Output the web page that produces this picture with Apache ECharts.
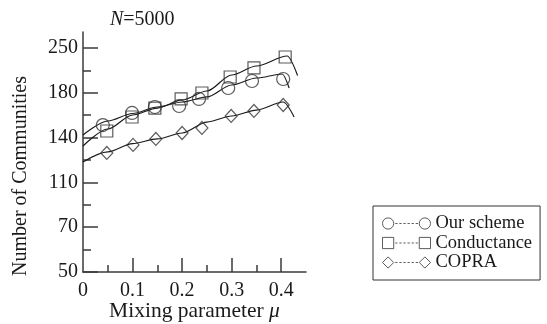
<!DOCTYPE html>
<html>
<head>
<meta charset="utf-8">
<script src="https://cdn.jsdelivr.net/npm/echarts@6/dist/echarts.min.js"></script>
<style>
  html, body { margin: 0; background: #fff; }
  #chart { width: 547px; height: 324px; }
</style>
</head>
<body>
<div id="chart"></div>
<script>
  // y axis labels are evenly spaced although their values are not
  const yTickLabels = [50, 70, 110, 140, 180, 250];
  const xTickLabels = [0, 0.1, 0.2, 0.3, 0.4];
  const seriesNames = ["Our scheme", "Conductance", "COPRA"];

  // measured points (markers)
  const oursMu = [0.04, 0.099, 0.145, 0.194, 0.234, 0.293, 0.341, 0.404];
  const oursCount = [151.2, 162, 167.3, 168.2, 174.5, 187.5, 198.4, 201.6];
  const condMu = [0.048, 0.099, 0.145, 0.198, 0.24, 0.297, 0.345, 0.408];
  const condCount = [145.9, 158.4, 166.4, 174.5, 179.8, 204.7, 218.8, 235.9];
  const copraMu = [0.048, 0.101, 0.147, 0.2, 0.24, 0.299, 0.345, 0.404];
  const copraCount = [129.7, 135.1, 139.1, 144.1, 148.6, 159.3, 163.8, 169.1];

  // fitted curves
  const oursFitMu = [0, 0.05, 0.1, 0.15, 0.2, 0.25, 0.3, 0.35, 0.402, 0.416];
  const oursFit = [142.3, 154.8, 161.5, 167.3, 171.8, 176.3, 192.2, 203.1, 209.4, 187.5];
  const condFitMu = [0, 0.05, 0.1, 0.15, 0.2, 0.25, 0.3, 0.35, 0.412, 0.433];
  const condFit = [134.4, 147.7, 160.2, 166.4, 173.6, 182.8, 207.8, 221.9, 237.5, 207.0];
  const copraFitMu = [0, 0.05, 0.1, 0.15, 0.2, 0.25, 0.3, 0.35, 0.404, 0.426];
  const copraFit = [123.7, 130.4, 136.0, 139.1, 144.1, 153.9, 159.3, 164.6, 171.8, 158.4];

  const FONT = "'Liberation Serif', 'Times New Roman', serif";
  const INK = "#1a1a1a";

  // value -> position on the evenly spaced label axis
  function toAxis(v) {
    for (let i = 0; i < yTickLabels.length - 1; i++) {
      const a = yTickLabels[i], b = yTickLabels[i + 1];
      if (v <= b || i === yTickLabels.length - 2) return i + (v - a) / (b - a);
    }
    return 0;
  }

  function pairs(xs, ys) {
    return xs.map((x, i) => [x, toAxis(ys[i])]);
  }

  function legendIcon(kind) {
    let shape;
    if (kind === "circle") {
      shape = (cx) => `M${cx + 5.5},6 A5.5,5.5 0 1 1 ${cx - 5.5},6 A5.5,5.5 0 1 1 ${cx + 5.5},6 Z `;
    } else if (kind === "rect") {
      shape = (cx) => `M${cx - 5.5},0.5 L${cx + 5.5},0.5 L${cx + 5.5},11.5 L${cx - 5.5},11.5 Z `;
    } else {
      shape = (cx) => `M${cx},0.5 L${cx + 5.5},6 L${cx},11.5 L${cx - 5.5},6 Z `;
    }
    let dash = "";
    for (let x = 13; x < 35; x += 4) dash += `M${x},6 L${x + 2.2},6 `;
    return "path://" + shape(6) + dash + shape(42);
  }

  const chart = echarts.init(document.getElementById("chart"));

  const axisLineStyle = { color: "#3a3a3a", width: 1.5 };
  const markerStyle = { color: "rgba(0,0,0,0)", borderColor: "#333", borderWidth: 1.2 };
  const fitStyle = { color: INK, width: 1.2 };

  function markerSeries(name, symbol, size, xs, ys) {
    return {
      name, type: "scatter", symbol, symbolSize: size,
      itemStyle: markerStyle, data: pairs(xs, ys), z: 3
    };
  }

  function fitSeries(name, xs, ys) {
    return {
      name: name + " fit", type: "line", smooth: 0.3, smoothMonotone: "x",
      showSymbol: false, lineStyle: fitStyle, itemStyle: { color: INK },
      data: pairs(xs, ys), z: 2
    };
  }

  chart.setOption({
    animation: false,
    backgroundColor: "#fff",
    title: {
      text: "{i|N}=5000",
      left: 105, top: 5,
      textStyle: {
        fontFamily: FONT, fontSize: 20, fontWeight: "normal", color: INK,
        rich: { i: { fontFamily: FONT, fontSize: 20, fontStyle: "italic", color: INK } }
      }
    },
    legend: {
      orient: "vertical",
      left: 373, top: 206,
      padding: [8, 8, 8, 9],
      borderColor: "#333", borderWidth: 1,
      itemWidth: 48, itemHeight: 12, itemGap: 0.5, itemTextGap: 8,
      textStyle: { fontFamily: FONT, fontSize: 18.5, color: INK, lineHeight: 16 },
      itemStyle: { color: "rgba(0,0,0,0)", borderColor: "#333", borderWidth: 1 },
      data: [
        { name: seriesNames[0], icon: legendIcon("circle") },
        { name: seriesNames[1], icon: legendIcon("rect") },
        { name: seriesNames[2], icon: legendIcon("diamond") }
      ]
    },
    grid: { left: 83, top: 32, width: 223, height: 240, outerBoundsMode: "none" },
    xAxis: [{
      type: "value", min: 0, max: 0.45,
      name: "Mixing parameter {i|\u03bc}", nameLocation: "middle", nameGap: 28,
      nameMoveOverlap: false,
      nameTextStyle: {
        fontFamily: FONT, fontSize: 21.5, color: INK,
        rich: { i: { fontFamily: FONT, fontSize: 21.5, fontStyle: "italic", color: INK } }
      },
      axisLine: { lineStyle: axisLineStyle },
      axisTick: { inside: true, length: 14, customValues: [0.1, 0.2, 0.3, 0.4], lineStyle: axisLineStyle },
      axisLabel: {
        customValues: xTickLabels, margin: 9,
        fontFamily: FONT, fontSize: 20, color: INK,
        formatter: (v) => (v === 0 ? "0" : v.toFixed(1))
      },
      splitLine: { show: false }
    }, {
      // minor ticks
      type: "value", min: 0, max: 0.45, position: "bottom",
      axisLine: { show: false },
      axisTick: { inside: true, length: 7, customValues: [0.05, 0.15, 0.25, 0.35], lineStyle: axisLineStyle },
      axisLabel: { show: false },
      splitLine: { show: false }
    }],
    yAxis: [{
      type: "value", min: 0, max: 240 / 44.8,
      axisLine: { show: true, lineStyle: axisLineStyle },
      axisTick: { show: true, inside: true, length: 15, customValues: [0, 1, 2, 3, 4, 5], lineStyle: axisLineStyle },
      axisLabel: {
        customValues: [0, 1, 2, 3, 4, 5], margin: 5,
        fontFamily: FONT, fontSize: 20, color: INK,
        formatter: (v) => String(yTickLabels[Math.round(v)])
      },
      splitLine: { show: false }
    }, {
      type: "value", min: 0, max: 240 / 44.8, position: "left",
      axisLine: { show: false },
      axisTick: { show: true, inside: true, length: 8, customValues: [0.5, 1.5, 2.5, 3.5, 4.5], lineStyle: axisLineStyle },
      axisLabel: { show: false },
      splitLine: { show: false }
    }],
    graphic: [{
      type: "text",
      x: 21, y: 176,
      rotation: Math.PI / 2,
      style: {
        text: "Number of Communities",
        font: "20px " + FONT,
        fill: INK,
        align: "center",
        verticalAlign: "middle"
      }
    }],
    series: [
      markerSeries(seriesNames[0], "circle", 13, oursMu, oursCount),
      markerSeries(seriesNames[1], "rect", 12, condMu, condCount),
      markerSeries(seriesNames[2], "diamond", [12, 13], copraMu, copraCount),
      fitSeries(seriesNames[0], oursFitMu, oursFit),
      fitSeries(seriesNames[1], condFitMu, condFit),
      fitSeries(seriesNames[2], copraFitMu, copraFit)
    ]
  });
</script>
</body>
</html>
